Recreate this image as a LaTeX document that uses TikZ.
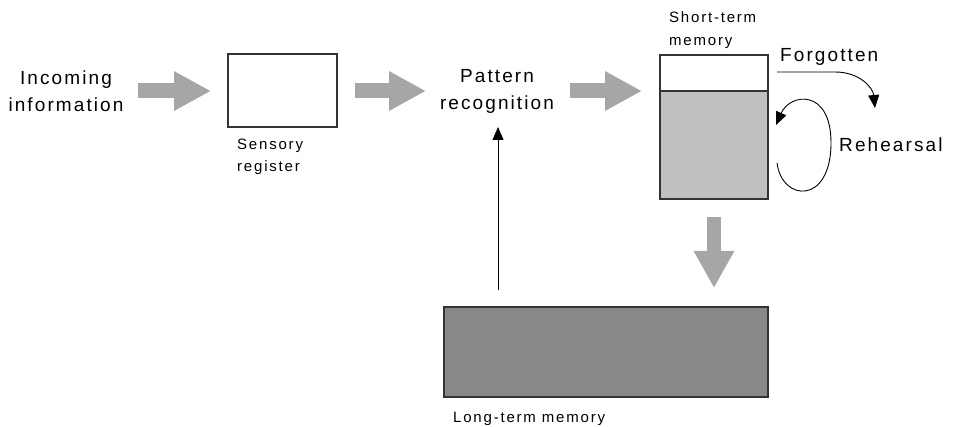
\documentclass[tikz,border=0pt]{standalone}
\usepackage{fontspec}
\setmainfont{Liberation Sans}[LetterSpace=11]
\newfontfamily\smallfnt{Liberation Sans}[LetterSpace=12]
\usetikzlibrary{arrows.meta}
\definecolor{arrowgray}{HTML}{A6A6A6}
\definecolor{stmgray}{HTML}{C0C0C0}
\definecolor{ltmgray}{HTML}{888888}
\definecolor{edge}{HTML}{333333}
\begin{document}
\begin{tikzpicture}[x=1pt,y=-1pt,
  bigtext/.style={font=\fontsize{19}{27}\selectfont,align=center,inner sep=0pt},
  smalltext/.style={font=\smallfnt\fontsize{15}{22.5}\selectfont,align=left,inner sep=0pt,anchor=west},
  box/.style={draw=edge,line width=1.2pt,inner sep=0pt},
  garrow/.style={draw=arrowgray,line width=15pt,-{Triangle[width=37pt,length=37pt]},arrowgray},
  thinarrow/.style={draw=black,line width=0.9pt,-{Triangle[length=13pt,width=11pt]}}
]
\useasboundingbox (0,0) rectangle (955,427);
% nodes
\node[bigtext] (in) at (66,91) {Incoming\\information};
\node[box,minimum width=109pt,minimum height=73pt] (sr) at (282.5,90.5) {};
\node[smalltext] (srl) at (237,157) {Sensory\\register};
\node[bigtext] (pr) at (497,91) {Pattern\\recognition};
\node[box,fill=stmgray,minimum width=108pt,minimum height=108pt] (stmb) at (714,145) {};
\node[box,fill=white,minimum width=108pt,minimum height=36pt] (stmt) at (714,73) {};
\node[smalltext] (stml) at (669,30) {Short-term\\memory};
\node[box,fill=ltmgray,minimum width=324pt,minimum height=90pt] (ltm) at (606,352) {};
\node[smalltext] (ltml) at (453,419) {Long-term memory};
\node[bigtext,anchor=west] (fg) at (780,57) {Forgotten};
\node[bigtext,anchor=west] (reh) at (839,145) {Rehearsal};
% block arrows
\coordinate (a1s) at (138,91);  \coordinate (a1e) at (211,91);
\coordinate (a2s) at (355,91);  \coordinate (a2e) at (426,91);
\coordinate (a3s) at (570,91);  \coordinate (a3e) at (642,91);
\coordinate (a4s) at (714,217); \coordinate (a4e) at (714,288);
\draw[garrow] (a1s) -- (a1e);
\draw[garrow] (a2s) -- (a2e);
\draw[garrow] (a3s) -- (a3e);
\draw[garrow,line width=14pt,-{Triangle[width=38pt,length=37pt]}] (a4s) -- (a4e);
% feedback arrow
\coordinate (lt) at (498,290);
\coordinate (pt) at (498,127);
\draw[thinarrow] (lt) -- (pt);
% forgotten arrow
\coordinate (f0) at (777,72);
\coordinate (f1) at (875,108);
\draw[thinarrow] (f0) -- (835,72) .. controls (860,72) and (873,88) .. (f1);
% rehearsal loop
\coordinate (r0) at (777,163);
\coordinate (r1) at (831,143);
\coordinate (r2) at (776,125);
\draw[thinarrow] (r0) .. controls (782,202) and (831,205) .. (r1) .. controls (831,88) and (790,93) .. (r2);
\end{tikzpicture}
\end{document}
